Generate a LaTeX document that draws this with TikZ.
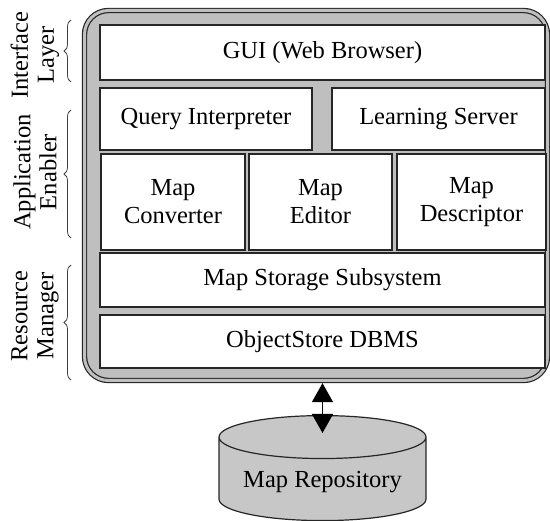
\documentclass[tikz,border=0pt]{standalone}
\usepackage{fontspec}
\setmainfont{Liberation Serif}
\usetikzlibrary{arrows.meta,positioning,shapes.geometric,decorations.pathreplacing}

\begin{document}
\begin{tikzpicture}[
  x=1pt, y=-1pt,
  every node/.style={font=\fontsize{24.5}{28}\selectfont},
  box/.style={draw=black!85, line width=1.2pt, fill=white, align=center, inner sep=0pt},
  frame/.style={draw=black!85, double=black!25, double distance=3pt, line width=1.2pt, fill=black!25, rounded corners=24pt, outer sep=2.7pt},
  store/.style={cylinder, shape border rotate=90, aspect=0.26, draw=black!85, line width=1.2pt, fill=black!22},
  brace/.style={decorate, decoration={brace, amplitude=7pt}, line width=0.8pt, black!75},
  layer/.style={rotate=90, align=center, font=\fontsize{24.5}{26}\selectfont},
  arrow/.style={{Triangle[length=19pt,width=21pt]}-{Triangle[length=19pt,width=21pt]}, line width=1.5pt}
]
\useasboundingbox (0,0) rectangle (550,521);
% outer system frame
\node[frame, minimum width=463pt, minimum height=370pt] (sys) at (316,195.5) {};
% layer boxes
\node[box, minimum width=445pt, minimum height=55pt] (gui) at (322.5,52.5) {GUI (Web Browser)};
\node[box, minimum width=212pt, minimum height=62pt] (query) at (206,119) {Query Interpreter};
\node[box, minimum width=213pt, minimum height=62pt] (learn) at (438.5,119) {Learning Server};
\node[box, minimum width=144pt, minimum height=96pt] (conv) at (173,202) {Map\\Converter};
\node[box, minimum width=143pt, minimum height=96pt] (edit) at (320.5,202) {Map\\Editor};
\node[box, minimum width=149pt, minimum height=96pt] (desc) at (471.5,202) {Map\\Descriptor};
\node[box, minimum width=445pt, minimum height=54pt] (mss) at (322.5,280) {Map Storage Subsystem};
\node[box, minimum width=445pt, minimum height=53pt] (dbms) at (322.5,341.5) {ObjectStore DBMS};
% repository
\node[store, minimum width=207pt, minimum height=105pt, anchor=north] (repo) at (322.5,415) {Map Repository};
\draw[arrow] (repo.north |- sys.south) -- ([yshift=-18pt]repo.north);
% layer labels
\node[layer] (ilabel) at (35,55) {Interface\\Layer};
\node[layer] (alabel) at (35,172) {Application\\Enabler};
\node[layer] (rlabel) at (35,316) {Resource\\Manager};
\draw[brace] (71,82) -- (71,20);
\draw[brace] (71,238) -- (71,110);
\draw[brace] (71,380) -- (71,265);
\end{tikzpicture}
\end{document}
